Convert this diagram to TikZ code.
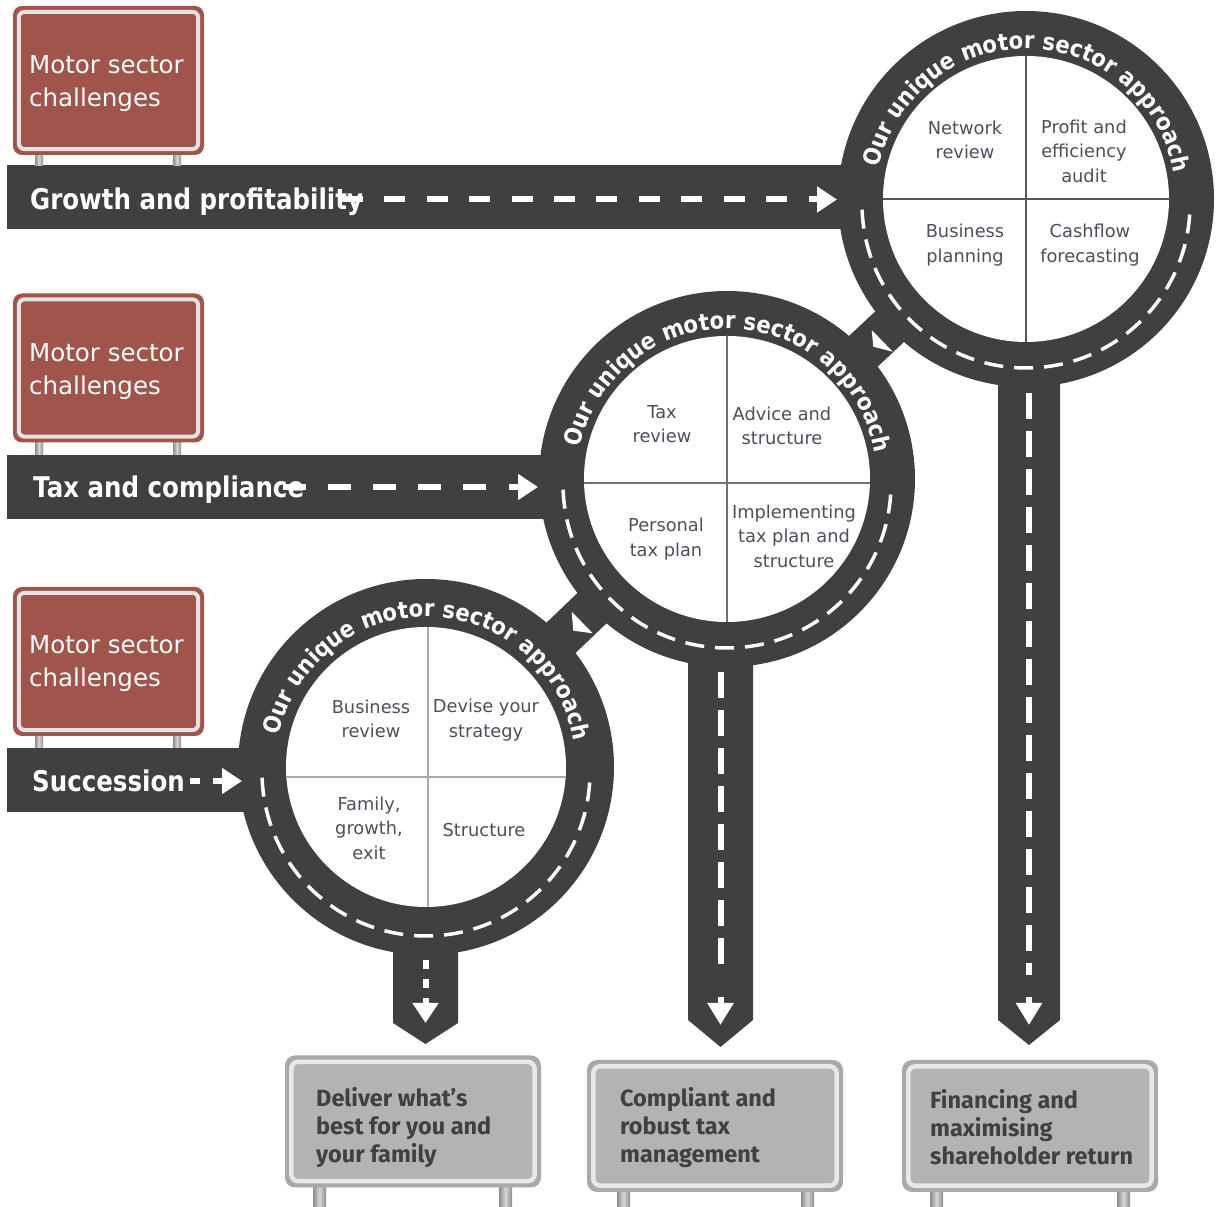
\documentclass[tikz,border=0pt]{standalone}
\usepackage{fontspec}
\setmainfont{DejaVu Sans}
\newfontfamily\narrowbold{DejaVu Sans}[FakeStretch=0.86]
\newfontfamily\ringfamily{DejaVu Sans}[FakeStretch=0.90]
\newfontfamily\signfont{Fira Sans}
\usetikzlibrary{decorations.text,arrows.meta,calc}
\definecolor{roadc}{RGB}{64,64,64}
\definecolor{signred}{RGB}{161,84,76}
\definecolor{bandc}{RGB}{228,228,228}
\definecolor{greyout}{RGB}{168,169,171}
\definecolor{greyband}{RGB}{232,232,233}
\definecolor{greyfill}{RGB}{178,179,181}
\definecolor{qtext}{RGB}{74,80,92}
\definecolor{lineA}{RGB}{80,86,96}
\definecolor{lineB}{RGB}{110,115,122}
\definecolor{lineC}{RGB}{168,170,175}
\definecolor{postdark}{RGB}{140,140,142}
\definecolor{postlight}{RGB}{215,215,217}
\definecolor{btext}{RGB}{64,64,66}
\newcommand\ringfmt{\ringfamily\bfseries\fontsize{23.6}{24}\selectfont\color{white}}
\begin{document}
\begin{tikzpicture}[x=1pt,y=1pt,
  hroad/.style={draw=roadc,line width=64pt},
  link/.style={draw=roadc,line width=42pt},
  ring/.style={circle,fill=roadc,inner sep=0pt,minimum size=376pt},
  disk/.style={circle,fill=white,inner sep=0pt,minimum size=286pt},
  ringdash/.style={draw=white,line width=3.5pt,dash pattern=on 19pt off 11pt},
  crossline/.style={line width=2.4pt},
  quad/.style={align=center,font=\fontsize{17.8}{24.5}\selectfont,text=qtext,inner sep=0pt},
  whdash/.style={draw=white,line width=6pt},
  arrowline/.style={draw=white,line width=6pt,-{Triangle[length=20pt,width=25pt]}},
  redsign/.style={rectangle,rounded corners=9pt,fill=signred,inner sep=0pt,minimum width=191pt,minimum height=149pt},
  greysign/.style={rectangle,rounded corners=10pt,fill=greyout,inner sep=0pt,minimum width=256pt,minimum height=132pt},
  redband/.style={draw=bandc,line width=4pt,rounded corners=6pt},
  greyband/.style={draw=greyband,fill=greyfill,line width=4.5pt,rounded corners=7pt},
  signtext/.style={align=left,font=\fontsize{24.5}{33}\selectfont,text=white,inner sep=0pt,anchor=west},
  btxt/.style={align=left,font=\signfont\bfseries\fontsize{23.5}{28}\selectfont,text=btext,inner sep=0pt,anchor=west},
  roadlabel/.style={font=\narrowbold\bfseries\fontsize{28.5}{30}\selectfont,text=white,inner sep=0pt,anchor=base west},
  post/.style={left color=postdark,right color=postdark,middle color=postlight}
]
\useasboundingbox (0,0) rectangle (1219,1207);

% centres
\coordinate (C1) at (1026,1008);
\coordinate (C2) at (727,728);
\coordinate (C3) at (426,440);
\coordinate (D1) at (1026,1003);
\coordinate (D2) at (727,723);
\coordinate (D3) at (426,435);

% horizontal roads
\coordinate (H1) at (7,1010);
\coordinate (H2) at (7,720);
\coordinate (H3) at (7,427);
\draw[hroad] (H1) -- (H1 -| C1);
\draw[hroad] (H2) -- (H2 -| C2);
\draw[hroad] (H3) -- (H3 -| C3);

% vertical roads
\fill[roadc] (998,1008) -- (998,187) -- (1029,162) -- (1060,187) -- (1060,1008) -- cycle;
\fill[roadc] (688,728) -- (688,187) -- (720.5,160) -- (753,187) -- (753,728) -- cycle;
\fill[roadc] (393,440) -- (393,184) -- (425.5,163) -- (458,184) -- (458,440) -- cycle;

% links between roundabouts
\draw[link] (C3) -- (C2);
\draw[link] (C2) -- (C1);
\fill[white] (571.7,595.3) -- (573.3,576.3) -- (592.7,573.7) -- cycle;
\fill[white] (871.7,877) -- (873.3,860.3) -- (892.7,855.3) -- cycle;

% rings
\node[ring] (ring1) at (C1) {};
\node[ring] (ring2) at (C2) {};
\node[ring] (ring3) at (C3) {};

\draw[ringdash] ([shift={(182:164)}]D1) arc[start angle=182,end angle=358,radius=164];
\draw[ringdash] ([shift={(182:164)}]D2) arc[start angle=182,end angle=358,radius=164];
\draw[ringdash] ([shift={(182:164)}]D3) arc[start angle=182,end angle=358,radius=164];

\path[decorate,decoration={text along path,text align=center,text={|\ringfmt|Our unique motor sector approach}}]
  ([shift={(170:150)}]C1) arc[start angle=170,end angle=8,radius=150];
\path[decorate,decoration={text along path,text align=center,text={|\ringfmt|Our unique motor sector approach}}]
  ([shift={(170:150)}]C2) arc[start angle=170,end angle=8,radius=150];
\path[decorate,decoration={text along path,text align=center,text={|\ringfmt|Our unique motor sector approach}}]
  ([shift={(170:150)}]C3) arc[start angle=170,end angle=8,radius=150];

% inner disks
\node[disk] (disk1) at (C1) {};
\node[disk] (disk2) at (C2) {};
\node[disk,minimum size=280pt] (disk3) at (C3) {};

\draw[crossline,draw=lineA] (disk1.north) -- (disk1.south);
\draw[crossline,draw=lineA] (disk1.west) -- (disk1.east);
\draw[crossline,draw=lineB] (disk2.north) -- (disk2.south);
\draw[crossline,draw=lineB] ([yshift=-4pt]disk2.west) -- ([yshift=-4pt]disk2.east);
\draw[crossline,draw=lineC] ([xshift=2pt]disk3.north) -- ([xshift=2pt]disk3.south);
\draw[crossline,draw=lineC] ([yshift=-10pt]disk3.west) -- ([yshift=-10pt]disk3.east);

% quadrant texts
\node[quad] (q11) at (965,1067) {Network\\review};
\node[quad] (q12) at (1084,1056) {Profit and\\efficiency\\audit};
\node[quad] (q13) at (965,962) {Business\\planning};
\node[quad] (q14) at (1090,962) {Cashflow\\forecasting};
\node[quad] (q21) at (662,783) {Tax\\review};
\node[quad] (q22) at (782,781) {Advice and\\structure};
\node[quad] (q23) at (666,668) {Personal\\tax plan};
\node[quad] (q24) at (794,671) {Implementing\\tax plan and\\structure};
\node[quad] (q31) at (371,488) {Business\\review};
\node[quad] (q32) at (486,487) {Devise your\\strategy};
\node[quad] (q33) at (369,379) {Family,\\growth,\\exit};
\node[quad] (q34) at (484,377) {Structure};

% road markings
\coordinate (g1) at (342,1007.5); \coordinate (g2) at (787,1007.5);
\coordinate (g3) at (809,1007.5); \coordinate (g4) at (837,1007.5);
\draw[whdash,dash pattern=on 21pt off 21.4pt] (g1) -- (g2);
\draw[arrowline] (g3) -- (g4);
\coordinate (t1) at (283,720); \coordinate (t2) at (486,720);
\coordinate (t3) at (509,720); \coordinate (t4) at (538,720);
\draw[whdash,dash pattern=on 23pt off 22pt] (t1) -- (t2);
\draw[arrowline] (t3) -- (t4);
\coordinate (s1) at (190,426); \coordinate (s2) at (200,426);
\coordinate (s3) at (213,426); \coordinate (s4) at (242,426);
\draw[whdash] (s1) -- (s2);
\draw[arrowline] (s3) -- (s4);

\coordinate (v1a) at (1029,814); \coordinate (v1b) at (1029,232);
\coordinate (v1c) at (1029,210); \coordinate (v1d) at (1029,182);
\draw[whdash,dash pattern=on 26pt off 12pt] (v1a) -- (v1b);
\draw[arrowline,-{Triangle[length=22pt,width=25pt]}] (v1c) -- (v1d);
\coordinate (v2a) at (720.5,535); \coordinate (v2b) at (720.5,232);
\coordinate (v2c) at (720.5,210); \coordinate (v2d) at (720.5,182);
\draw[whdash,dash pattern=on 26pt off 12pt] (v2a) -- (v2b);
\draw[arrowline,-{Triangle[length=22pt,width=25pt]}] (v2c) -- (v2d);
\coordinate (v3a) at (425.5,247); \coordinate (v3b) at (425.5,219);
\coordinate (v3c) at (425.5,209); \coordinate (v3d) at (425.5,184);
\draw[whdash,dash pattern=on 9pt off 10pt] (v3a) -- (v3b);
\draw[arrowline] (v3c) -- (v3d);

% road labels
\node[roadlabel] (lab1) at (30,997) {Growth and profitability};
\node[roadlabel] (lab2) at (33,709) {Tax and compliance};
\node[roadlabel] (lab3) at (32,415) {Succession};

% red signs
\foreach \n/\yc/\yb in {1/1126.5/1041, 2/839/752, 3/545.5/459}{
  \pgfmathsetmacro\ytop{\yc-74.5}
  \shade[post] (35,\yb) rectangle (43,\ytop);
  \shade[post] (173,\yb) rectangle (181,\ytop);
  \node[redsign] (rs\n) at (108.5,\yc) {};
  \draw[redband] ([shift={(6,-6)}]rs\n.north west) rectangle ([shift={(-6,6)}]rs\n.south east);
}
\node[signtext] (rt1) at (29,1123) {Motor sector\\challenges};
\node[signtext] (rt2) at (29,835) {Motor sector\\challenges};
\node[signtext] (rt3) at (29,543) {Motor sector\\challenges};

% grey destination signs
\foreach \n/\xc/\yc/\pa/\pb in {1/413/85.5/313/499, 2/715/81/617/801, 3/1030/81/930/1117}{
  \pgfmathsetmacro\ybot{\yc-66}
  \shade[post] (\pa,0) rectangle (\pa+13,\ybot);
  \shade[post] (\pb,0) rectangle (\pb+13,\ybot);
  \node[greysign] (gs\n) at (\xc,\yc) {};
  \draw[greyband] ([shift={(6.5,-6.5)}]gs\n.north west) rectangle ([shift={(-6.5,6.5)}]gs\n.south east);
}
\node[btxt] (bt1) at (316,79.5) {Deliver what’s\\best for you and\\your family};
\node[btxt] (bt2) at (620,79.5) {Compliant and\\robust tax\\management};
\node[btxt] (bt3) at (930,79.5) {Financing and\\maximising\\shareholder return};
\end{tikzpicture}
\end{document}
